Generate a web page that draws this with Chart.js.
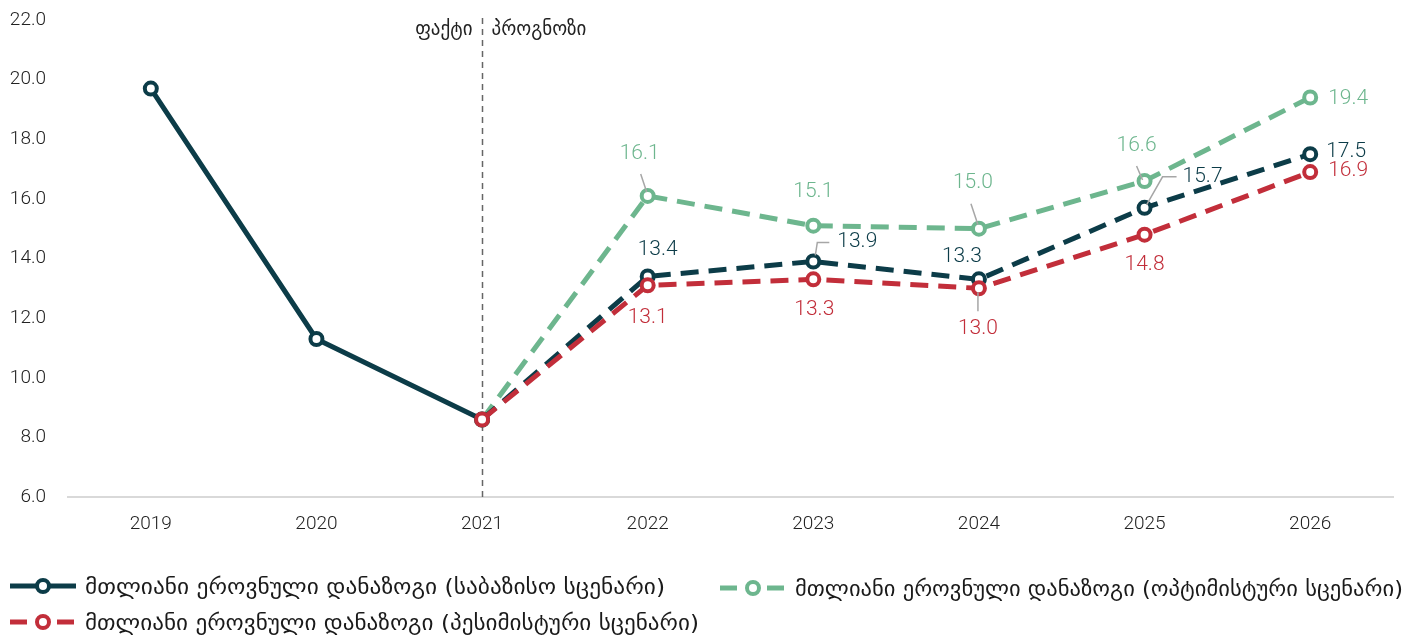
<!DOCTYPE html>
<html>
<head>
<meta charset="utf-8">
<script src="https://cdn.jsdelivr.net/npm/chart.js@4.4.1/dist/chart.umd.min.js"></script>
<style>
  html, body { margin: 0; padding: 0; background: #fff; }
  #wrap { position: relative; width: 1427px; height: 637px; overflow: hidden; }
  #chart { position: absolute; left: 0; top: 0; }
  .legend-item {
    position: absolute; display: flex; align-items: center; white-space: nowrap;
    font-family: "DejaVu Sans", sans-serif; font-size: 22px; color: #1a1a1a;
  }
  .legend-item svg { flex: none; }
  .legend-item span { display: inline-block; transform-origin: left center; }
</style>
</head>
<body>
<div id="wrap">
  <canvas id="chart" width="1427" height="637"></canvas>
  <div id="legend"></div>
</div>
<script>
// მონაცემები
const years = ['2019', '2020', '2021', '2022', '2023', '2024', '2025', '2026'];
const baseValues        = [19.7, 11.3, 8.6, 13.4, 13.9, 13.3, 15.7, 17.5];
const optimisticValues  = [null, null, 8.6, 16.1, 15.1, 15.0, 16.6, 19.4];
const pessimisticValues = [null, null, 8.6, 13.1, 13.3, 13.0, 14.8, 16.9];
const yTicks = [6, 8, 10, 12, 14, 16, 18, 20, 22];

const baseName = 'მთლიანი ეროვნული დანაზოგი (საბაზისო სცენარი)';
const optimisticName = 'მთლიანი ეროვნული დანაზოგი (ოპტიმისტური სცენარი)';
const pessimisticName = 'მთლიანი ეროვნული დანაზოგი (პესიმისტური სცენარი)';
const factText = 'ფაქტი';
const forecastText = 'პროგნოზი';
const forecastStart = 2; // 2021

const DARK = '#0c3c48';
const GREEN = '#6db68e';
const RED = '#c22e3a';

// ლეიბლების განლაგება (წერტილის მიმართ)
const baseLabelPos = {
  3: { dx: 10, dy: -27 },
  4: { dx: 44, dy: -20, leader: [[2, -6], [4, -19], [16, -19]] },
  5: { dx: -17, dy: -23 },
  6: { dx: 58, dy: -31, leader: [[2, -3], [18, -31], [32, -31]] },
  7: { dx: 36, dy: -2 }
};
const optimisticLabelPos = {
  3: { dx: -8, dy: -42, leader: [[-7, -22], [-1, -4]] },
  4: { dx: 0, dy: -34 },
  5: { dx: -6, dy: -46, leader: [[-8, -25], [-1, -4]] },
  6: { dx: -8, dy: -35, leader: [[-8, -15], [-2, -1]] },
  7: { dx: 38, dy: 1 }
};
const pessimisticLabelPos = {
  3: { dx: 0, dy: 32 },
  4: { dx: 1, dy: 30 },
  5: { dx: -1, dy: 40, leader: [[-1, 4], [-1, 23]] },
  6: { dx: 0, dy: 30 },
  7: { dx: 38, dy: -1 }
};

const tickFont = { family: 'Roboto, "Liberation Sans", sans-serif', size: 19, weight: '300' };

// ფაქტი / პროგნოზი ხაზი
const forecastLinePlugin = {
  id: 'forecastLine',
  beforeDatasetsDraw(chart) {
    const { ctx, chartArea, scales } = chart;
    const x = Math.round(scales.x.getPixelForValue(forecastStart)) + 0.5;
    ctx.save();
    ctx.strokeStyle = '#666';
    ctx.lineWidth = 1.5;
    ctx.setLineDash([6, 5]);
    ctx.beginPath();
    ctx.moveTo(x, 18);
    ctx.lineTo(x, chartArea.bottom);
    ctx.stroke();
    ctx.setLineDash([]);
    ctx.fillStyle = '#222';
    ctx.font = '19px "DejaVu Sans", sans-serif';
    ctx.textBaseline = 'middle';
    ctx.textAlign = 'right';
    ctx.fillText(factText, x - 10, 30);
    ctx.textAlign = 'left';
    ctx.fillText(forecastText, x + 9, 30);
    ctx.restore();
  }
};

// მნიშვნელობების ლეიბლები
const valueLabelPlugin = {
  id: 'valueLabels',
  afterDatasetsDraw(chart) {
    const { ctx } = chart;
    ctx.save();
    chart.data.datasets.forEach((ds, di) => {
      const meta = chart.getDatasetMeta(di);
      Object.keys(ds.labelPos).forEach(k => {
        const i = Number(k);
        const pt = meta.data[i];
        const v = ds.data[i];
        if (!pt || v == null) return;
        const p = ds.labelPos[k];
        if (p.leader) {
          ctx.strokeStyle = '#a6a6a6';
          ctx.lineWidth = 1.5;
          ctx.beginPath();
          p.leader.forEach(([lx, ly], j) => {
            if (j === 0) ctx.moveTo(pt.x + lx, pt.y + ly);
            else ctx.lineTo(pt.x + lx, pt.y + ly);
          });
          ctx.stroke();
        }
        ctx.fillStyle = ds.borderColor;
        ctx.font = '300 21px Roboto, "Liberation Sans", sans-serif';
        ctx.textAlign = 'center';
        ctx.textBaseline = 'middle';
        ctx.fillText(v.toFixed(1), pt.x + p.dx, pt.y + p.dy);
      });
    });
    ctx.restore();
  }
};

function lineDataset(label, data, color, labelPos, solidUntil) {
  return {
    label, data, labelPos,
    borderColor: color,
    backgroundColor: color,
    borderWidth: 5,
    borderDash: [18, 10],
    segment: solidUntil != null ? {
      borderDash: c => c.p0DataIndex < solidUntil ? [] : [18, 10]
    } : undefined,
    pointRadius: 6,
    pointHoverRadius: 6,
    pointBorderWidth: 4,
    pointBackgroundColor: '#fff',
    pointBorderColor: color,
    tension: 0,
    spanGaps: false
  };
}

new Chart(document.getElementById('chart'), {
  type: 'line',
  data: {
    labels: years,
    datasets: [
      lineDataset(pessimisticName, pessimisticValues, RED, pessimisticLabelPos),
      lineDataset(baseName, baseValues, DARK, baseLabelPos, forecastStart),
      lineDataset(optimisticName, optimisticValues, GREEN, optimisticLabelPos)
    ]
  },
  options: {
    responsive: false,
    devicePixelRatio: 1,
    animation: false,
    layout: { padding: { top: 20, right: 34, left: 0, bottom: 0 } },
    plugins: { legend: { display: false }, tooltip: { enabled: false } },
    scales: {
      x: {
        offset: true,
        grid: { display: false, drawTicks: false },
        border: { display: true, color: '#d9d9d9', width: 2 },
        ticks: { font: tickFont, color: '#222', padding: 16, maxRotation: 0 },
        afterFit: s => { s.height = 140; s.paddingLeft = 0; s.paddingRight = 0; }
      },
      y: {
        min: 6, max: 22,
        afterBuildTicks: s => { s.ticks = yTicks.map(v => ({ value: v })); },
        grid: { display: false, drawTicks: false },
        border: { display: false },
        ticks: { font: tickFont, color: '#222', padding: 22, callback: v => Number(v).toFixed(1) },
        afterFit: s => { s.width = 68; s.paddingTop = 0; s.paddingBottom = 0; }
      }
    }
  },
  plugins: [forecastLinePlugin, valueLabelPlugin]
});

// ლეგენდა
const legendItems = [
  { name: baseName, color: DARK, dashed: false, left: 8, top: 586, textWidth: 580 },
  { name: optimisticName, color: GREEN, dashed: true, left: 718, top: 588, textWidth: 608 },
  { name: pessimisticName, color: RED, dashed: true, left: 8, top: 622, textWidth: 614 }
];
const legendEl = document.getElementById('legend');
legendItems.forEach(it => {
  const div = document.createElement('div');
  div.className = 'legend-item';
  div.style.left = it.left + 'px';
  div.style.top = (it.top - 15) + 'px';
  div.style.height = '30px';
  const line = it.dashed
    ? `<line x1="2" y1="15" x2="19" y2="15" stroke="${it.color}" stroke-width="5"/><line x1="49" y1="15" x2="66" y2="15" stroke="${it.color}" stroke-width="5"/>`
    : `<line x1="2" y1="15" x2="68" y2="15" stroke="${it.color}" stroke-width="5"/>`;
  div.innerHTML = `<svg width="77" height="30">${line}<circle cx="35" cy="15" r="6" fill="#fff" stroke="${it.color}" stroke-width="4"/></svg><span>${it.name}</span>`;
  legendEl.appendChild(div);
  const span = div.querySelector('span');
  const w = span.getBoundingClientRect().width;
  if (w > 0) span.style.transform = `scaleX(${it.textWidth / w})`;
});
</script>
</body>
</html>
